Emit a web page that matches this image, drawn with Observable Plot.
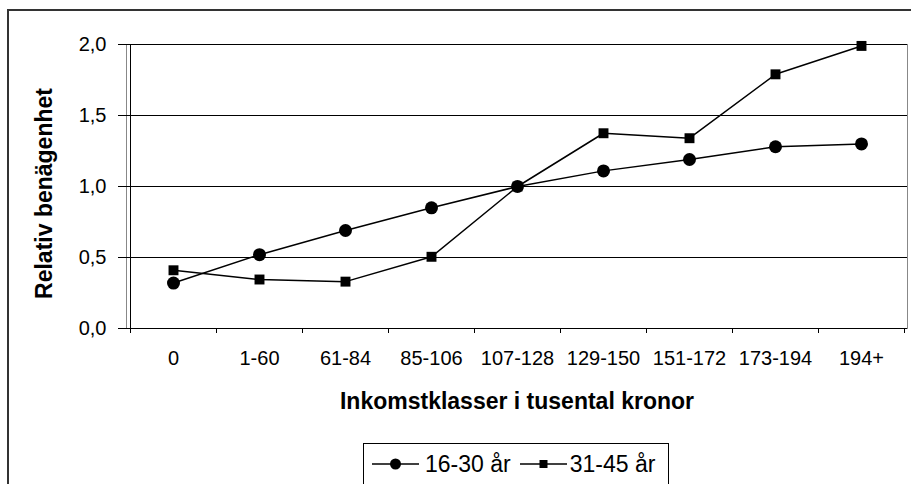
<!DOCTYPE html>
<html>
<head>
<meta charset="utf-8">
<script src="https://cdn.jsdelivr.net/npm/d3@7"></script>
<script src="https://cdn.jsdelivr.net/npm/@observablehq/plot@0.6"></script>
<style>
  html, body { margin: 0; padding: 0; background: #fff; }
  body { width: 911px; height: 484px; position: relative; overflow: hidden;
         font-family: "Liberation Sans", Arial, sans-serif; color: #000; }
  #border { position: absolute; left: 7px; top: 9px; width: 1200px; height: 1200px;
            border-left: 2px solid #333; border-top: 2px solid #333; }
  #chart { position: absolute; left: 0; top: 0; }
  #legend { position: absolute; left: 363px; top: 443px; width: 306px; height: 42px;
            border: 1px solid #000; box-sizing: border-box; background: #fff;
            display: flex; align-items: center; font-size: 23px; white-space: nowrap; }
  #legend .item { display: flex; align-items: center; }
  #legend svg { display: block; }
</style>
</head>
<body>
<div id="border"></div>
<div id="chart"></div>
<div id="legend"></div>
<script>
// ---- data ----
const categories = ["0", "1-60", "61-84", "85-106", "107-128", "129-150", "151-172", "173-194", "194+"];
const seriesNames = ["16-30 år", "31-45 år"];
const values1630 = [0.32, 0.52, 0.69, 0.85, 1.00, 1.11, 1.19, 1.28, 1.30];
const values3145 = [0.41, 0.345, 0.33, 0.505, 1.00, 1.375, 1.34, 1.79, 1.99];
const yTicks = [0, 0.5, 1.0, 1.5, 2.0];
const xTitle = "Inkomstklasser i tusental kronor";
const yTitle = "Relativ benägenhet";

const rows1 = categories.map((c, i) => ({cat: c, v: values1630[i]}));
const rows2 = categories.map((c, i) => ({cat: c, v: values3145[i]}));
const fmt = d => d.toFixed(1).replace(".", ",");

// boundary ticks between categories + left axis line
function boundaries(index, scales, values, dimensions) {
  const x = scales.x, y = scales.y;
  const {width, marginLeft, marginRight} = dimensions;
  const step = (x.step ? x.step() : (width - marginLeft - marginRight) / categories.length);
  const y0 = y(0);
  const g = d3.create("svg:g").attr("stroke", "#000").attr("stroke-width", 1).attr("shape-rendering", "crispEdges");
  categories.forEach((c) => {
    const bx = x(c) - step / 2;
    g.append("line").attr("x1", bx).attr("x2", bx).attr("y1", y0).attr("y2", y0 + 5);
  });
  const last = x(categories[categories.length - 1]) + step / 2;
  g.append("line").attr("x1", last).attr("x2", last).attr("y1", y0).attr("y2", y0 + 5);
  const left = x(categories[0]) - step / 2;
  g.append("line").attr("x1", left).attr("x2", left).attr("y1", y(2)).attr("y2", y0);
  return g.node();
}

const plot = Plot.plot({
  width: 911,
  height: 440,
  marginLeft: 126,
  marginRight: 4,
  marginTop: 44,
  marginBottom: 112,
  style: {fontFamily: "'Liberation Sans', Arial, sans-serif", fontSize: "20px", color: "#000", background: "transparent", overflow: "visible"},
  x: {type: "point", domain: categories, padding: 0.5},
  y: {domain: [0, 2]},
  marks: [
    Plot.frame({stroke: "#888"}),
    Plot.ruleY(yTicks, {stroke: "#000", shapeRendering: "crispEdges"}),
    boundaries,
    Plot.axisY({ticks: yTicks, tickFormat: fmt, tickSize: 8, tickPadding: 12, label: null, fontSize: 20, stroke: "#000"}),
    Plot.axisX({tickSize: 0, tickPadding: 22, label: null, fontSize: 20}),
    Plot.line(rows2, {x: "cat", y: "v", stroke: "#000", strokeWidth: 1.5}),
    Plot.line(rows1, {x: "cat", y: "v", stroke: "#000", strokeWidth: 1.5}),
    Plot.dot(rows2, {x: "cat", y: "v", symbol: "square", r: 5.6, fill: "#000", stroke: "none"}),
    Plot.dot(rows1, {x: "cat", y: "v", r: 6.5, fill: "#000", stroke: "none"}),
    Plot.text([xTitle], {frameAnchor: "bottom", dy: 73, textAnchor: "middle", lineAnchor: "middle", fontWeight: "bold", fontSize: 23}),
    Plot.text([yTitle], {frameAnchor: "left", dx: -82, dy: 7, rotate: -90, textAnchor: "middle", lineAnchor: "middle", fontWeight: "bold", fontSize: 23})
  ]
});
document.getElementById("chart").appendChild(plot);

// ---- legend ----
const legend = d3.select("#legend");
const symbols = ["circle", "square"];
seriesNames.forEach((name, i) => {
  const item = legend.append("div").attr("class", "item")
    .style("margin-left", i === 0 ? "8px" : "9px");
  const s = item.append("svg").attr("width", 47).attr("height", 20);
  s.append("line").attr("x1", 0).attr("x2", 47).attr("y1", 10).attr("y2", 10)
    .attr("stroke", "#000").attr("stroke-width", 1.5);
  if (symbols[i] === "circle") {
    s.append("circle").attr("cx", 23.5).attr("cy", 10).attr("r", 5.5).attr("fill", "#000");
  } else {
    s.append("rect").attr("x", 19.5).attr("y", 6).attr("width", 8).attr("height", 8).attr("fill", "#000");
  }
  item.append("span").text(name).style("margin-left", i === 0 ? "6px" : "3px");
});
</script>
</body>
</html>
